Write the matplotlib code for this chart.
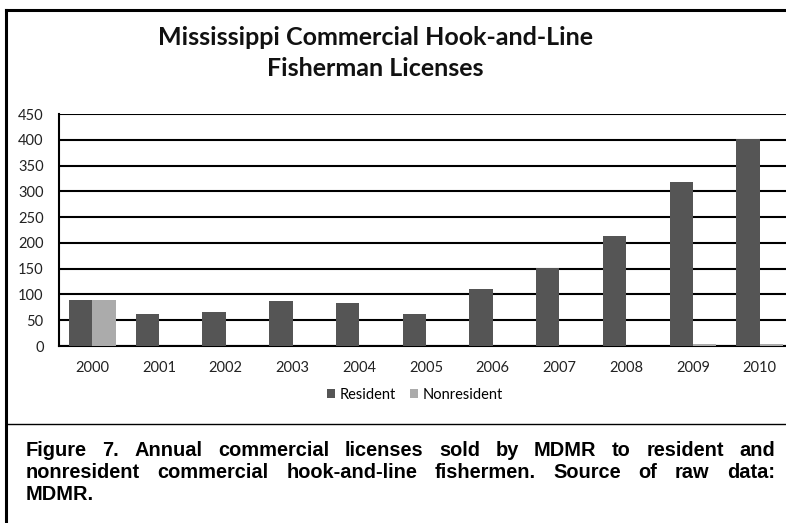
import matplotlib
matplotlib.use("Agg")
import matplotlib.pyplot as plt
from matplotlib.lines import Line2D
import numpy as np

years = ["2000", "2001", "2002", "2003", "2004", "2005", "2006", "2007", "2008", "2009", "2010"]
resident = [89, 63, 66, 87, 84, 63, 110, 152, 213, 318, 401]
nonresident = [89, 0, 0, 0, 0, 0, 0, 0, 0, 3, 3]
yticks = [0, 50, 100, 150, 200, 250, 300, 350, 400, 450]

title = "Mississippi Commercial Hook-and-Line\nFisherman Licenses"
caption_lines = [
    "Figure 7. Annual commercial licenses sold by MDMR to resident and",
    "nonresident commercial hook-and-line fishermen. Source of raw data:",
    "MDMR.",
]

W, H = 786, 523
fig = plt.figure(figsize=(W / 100, H / 100), dpi=100)
fig.patch.set_facecolor("white")

ax = fig.add_axes([59 / W, 1 - 346 / H, (793 - 59) / W, (346 - 114) / H])
x = np.arange(len(years))
bw = 0.35
ax.bar(x - bw / 2, resident, bw, color="#555555", label="Resident", zorder=3)
ax.bar(x + bw / 2, nonresident, bw, color="#ababab", label="Nonresident", zorder=3)
ax.set_xlim(-0.5, len(years) - 0.5)
ax.set_ylim(0, 450)
ax.set_yticks(yticks)
ax.set_yticklabels([str(v) for v in yticks])
ax.set_xticks(x)
ax.set_xticklabels(years)
ax.yaxis.grid(True, color="black", linewidth=1.5, zorder=1)
ax.set_axisbelow(True)
for s in ["top", "right"]:
    ax.spines[s].set_visible(False)
ax.spines["left"].set_linewidth(1.5)
ax.spines["bottom"].set_linewidth(1.5)
ax.tick_params(axis="both", length=0, labelsize=10.5, colors="#222222")
ax.tick_params(axis="y", pad=11)
ax.tick_params(axis="x", pad=11)
for lbl in ax.get_xticklabels() + ax.get_yticklabels():
    lbl.set_fontfamily("Lato")

fig.text(375 / W, 1 - 53 / H, title, ha="center", va="center", fontsize=18,
         fontweight="bold", family="Lato", linespacing=1.45, color="#111111")

fig.legend(loc="center", bbox_to_anchor=(415 / W, 1 - 395 / H), ncol=2, frameon=False,
           prop={"family": "Lato", "size": 10.5}, handlelength=0.55, handleheight=0.55,
           handletextpad=0.3, columnspacing=1.0)

# frame lines
fig.add_artist(Line2D([6 / W, 6 / W], [0, 1 - 10 / H], color="black", lw=2.2, transform=fig.transFigure))
fig.add_artist(Line2D([6 / W, 1], [1 - 10 / H, 1 - 10 / H], color="black", lw=2.2, transform=fig.transFigure))
fig.add_artist(Line2D([6 / W, 1], [1 - 424 / H, 1 - 424 / H], color="black", lw=1.0, transform=fig.transFigure))

# justified caption
renderer = fig.canvas.get_renderer()
x0, x1 = 26, 775
ys = [449, 471, 493]
cfs = 14.4
for i, (line, yy) in enumerate(zip(caption_lines, ys)):
    words = line.split(" ")
    texts = [fig.text(0, 1 - yy / H, w, ha="left", va="center_baseline", fontsize=cfs,
                      fontweight="bold", family="Liberation Sans", color="black") for w in words]
    widths = [t.get_window_extent(renderer).width for t in texts]
    if i < len(caption_lines) - 1 and len(words) > 1:
        gap = (x1 - x0 - sum(widths)) / (len(words) - 1)
    else:
        gap = 5
    cx = x0
    for t, w in zip(texts, widths):
        t.set_x(cx / W)
        cx += w + gap

fig.savefig("out.png", dpi=100, facecolor="white")
